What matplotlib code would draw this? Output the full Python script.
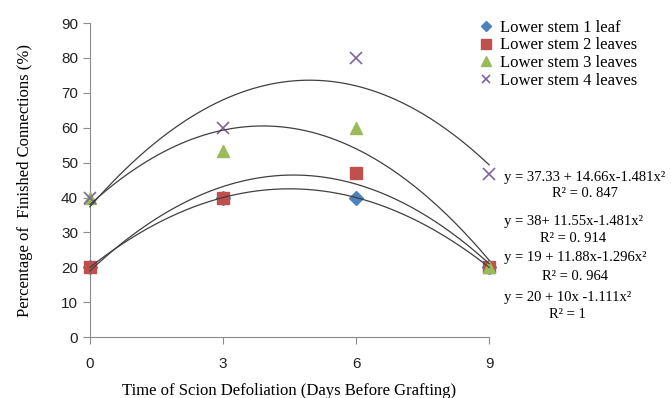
import numpy as np
import matplotlib
matplotlib.use("Agg")
import matplotlib.pyplot as plt

# data
days = [0, 3, 6, 9]
stem1 = [20, 40, 40, 20]
stem2 = [20, 40, 47, 20]
stem3 = [40, 53.3, 60, 20]
stem4 = [40, 60, 80, 46.7]
names = ['Lower stem 1 leaf', 'Lower stem 2 leaves',
         'Lower stem 3 leaves', 'Lower stem 4 leaves']
equations = ['y = 37.33 + 14.66x-1.481x\u00b2', 'y = 38+ 11.55x-1.481x\u00b2',
             'y = 19 + 11.88x-1.296x\u00b2', 'y = 20 + 10x -1.111x\u00b2']
r2 = ['R\u00b2 = 0. 847', 'R\u00b2 = 0. 914', 'R\u00b2 = 0. 964', 'R\u00b2 = 1']

serif = 'Liberation Serif'
axis_grey = '#8c8c8c'

fig = plt.figure(figsize=(6.71, 3.98), dpi=100)
ax = fig.add_axes([0.134, 0.153, 0.595, 0.789])

series = [stem1, stem2, stem3, stem4]
styles = [('D', '#4f81bd', 7), ('s', '#c0504d', 8.5), ('^', '#9bbb59', 8.5), ('x', '#8064a2', 8)]
for vals, name, (m, c, ms) in zip(series, names, styles):
    kw = dict(markeredgewidth=1.2) if m == 'x' else dict(markeredgecolor=c)
    ax.plot(days, vals, linestyle='none', marker=m, color=c, markersize=ms,
            label=name, clip_on=False, zorder=3, **kw)

# second order trendlines
xs = np.linspace(0, 9, 200)
for vals in series:
    p = np.polyfit(days, vals, 2)
    ax.plot(xs, np.polyval(p, xs), color='#404040', lw=0.9, zorder=4, clip_on=False)

ax.set_xlim(0, 9)
ax.set_ylim(0, 90)
ax.set_xticks(days)
ax.set_yticks(range(0, 91, 10))
for s in ['top', 'right']:
    ax.spines[s].set_visible(False)
for s in ['left', 'bottom']:
    ax.spines[s].set_color(axis_grey)
ax.tick_params(axis='both', color=axis_grey, length=5, labelsize=11,
               labelcolor='#222222')
ax.tick_params(axis='x', pad=9)
for lab in ax.get_xticklabels() + ax.get_yticklabels():
    lab.set_family('Liberation Sans')

ax.set_ylabel('Percentage of  Finished Connections (%)', family=serif, fontsize=12, labelpad=20)
ax.set_xlabel('Time of Scion Defoliation (Days Before Grafting)', family=serif, fontsize=12, labelpad=9)

leg = ax.legend(loc='upper left', bbox_to_anchor=(0.955, 1.032), frameon=False,
                prop={'family': serif, 'size': 12}, handletextpad=0.3,
                labelspacing=0.1, handlelength=1.0, borderaxespad=0, markerscale=0.8)

# trendline equations: left-aligned, R² centred under each
eq_x = 504
eq_y = [177, 222, 258, 297]
r2_y = [193, 238, 277, 314]
for eq, r, y, yr in zip(equations, r2, eq_y, r2_y):
    t = fig.text(eq_x / 671, 1 - y / 398, eq, family=serif, fontsize=10.5, ha='left', va='center')
    fig.canvas.draw()
    bb = t.get_window_extent()
    cx = (bb.x0 + bb.x1) / 2 / fig.bbox.width
    fig.text(cx, 1 - yr / 398, r, family=serif, fontsize=10.5, ha='center', va='center')

fig.savefig('out.png', dpi=100)
